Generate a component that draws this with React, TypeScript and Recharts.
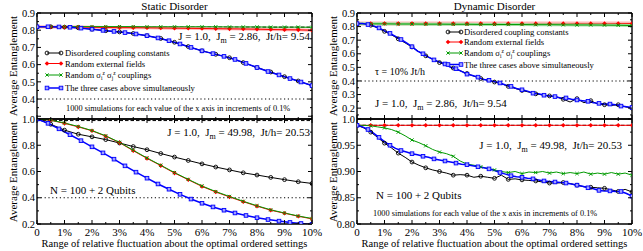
import React from 'react';
import { LineChart, Line, XAxis, YAxis, ReferenceLine } from 'recharts';

const FONT = '"Liberation Serif", "Times New Roman", Times, serif';
const W = 643;
const H = 251;

// ---------- x grids (relative fluctuation, %) ----------
const X_STEP_05 = [0, 0.5, 1, 1.5, 2, 2.5, 3, 3.5, 4, 4.5, 5, 5.5, 6, 6.5, 7, 7.5, 8, 8.5, 9, 9.5, 10];
const X_STEP_04 = [0, 0.4, 0.8, 1.2, 1.6, 2, 2.4, 2.8, 3.2, 3.6, 4, 4.4, 4.8, 5.2, 5.6, 6, 6.4, 6.8, 7.2, 7.6, 8, 8.4, 8.8, 9.2, 9.6, 10];
const X_STEP_025 = [0, 0.25, 0.5, 0.75, 1, 1.25, 1.5, 1.75, 2, 2.25, 2.5, 2.75, 3, 3.25, 3.5, 3.75, 4, 4.25, 4.5, 4.75, 5, 5.25, 5.5, 5.75, 6, 6.25, 6.5, 6.75, 7, 7.25, 7.5, 7.75, 8, 8.25, 8.5, 8.75, 9, 9.25, 9.5, 9.75, 10];
const X_STEP_02 = [0, 0.2, 0.4, 0.6, 0.8, 1, 1.2, 1.4, 1.6, 1.8, 2, 2.2, 2.4, 2.6, 2.8, 3, 3.2, 3.4, 3.6, 3.8, 4, 4.2, 4.4, 4.6, 4.8, 5, 5.2, 5.4, 5.6, 5.8, 6, 6.2, 6.4, 6.6, 6.8, 7, 7.2, 7.4, 7.6, 7.8, 8, 8.2, 8.4, 8.6, 8.8, 9, 9.2, 9.4, 9.6, 9.8, 10];

const X_MAJOR = [0, 1, 2, 3, 4, 5, 6, 7, 8, 9, 10];
const X_MINOR = [0.5, 1.5, 2.5, 3.5, 4.5, 5.5, 6.5, 7.5, 8.5, 9.5];
const X_LABELS = ['0', '1%', '2%', '3%', '4%', '5%', '6%', '7%', '8%', '9%', '10%'];

// ---------- Static disorder, Jm = 2.86 ----------
const ST_TOP_BLACK = [0.82, 0.82, 0.818, 0.814, 0.806, 0.797, 0.79, 0.781, 0.768, 0.752, 0.73, 0.705, 0.68, 0.66, 0.64, 0.612, 0.583, 0.557, 0.53, 0.505, 0.478];
const ST_TOP_RED = [0.82, 0.819, 0.818, 0.818, 0.817, 0.816, 0.815, 0.815, 0.814, 0.813, 0.812, 0.811, 0.81, 0.809, 0.808, 0.807, 0.806, 0.804, 0.803, 0.802, 0.8];
const ST_TOP_GREEN = [0.82, 0.821, 0.821, 0.821, 0.821, 0.821, 0.821, 0.821, 0.82, 0.82, 0.82, 0.82, 0.82, 0.82, 0.819, 0.819, 0.819, 0.818, 0.818, 0.818, 0.817];
const ST_TOP_BLUE = [0.82, 0.82, 0.819, 0.817, 0.812, 0.806, 0.799, 0.793, 0.786, 0.778, 0.768, 0.755, 0.739, 0.72, 0.7, 0.68, 0.664, 0.648, 0.63, 0.607, 0.583, 0.56, 0.54, 0.519, 0.499, 0.478];

// ---------- Static disorder, Jm = 49.98 ----------
const ST_BOT_BLACK = [1.0, 0.96, 0.915, 0.884, 0.864, 0.843, 0.817, 0.79, 0.766, 0.737, 0.71, 0.684, 0.658, 0.634, 0.612, 0.59, 0.573, 0.555, 0.538, 0.522, 0.509];
const ST_BOT_RED = [1.0, 0.99, 0.967, 0.94, 0.91, 0.869, 0.82, 0.758, 0.7, 0.645, 0.588, 0.537, 0.486, 0.444, 0.406, 0.37, 0.336, 0.305, 0.282, 0.259, 0.239];
const ST_BOT_GREEN = [1.0, 0.991, 0.97, 0.943, 0.912, 0.872, 0.822, 0.762, 0.703, 0.648, 0.592, 0.54, 0.49, 0.447, 0.41, 0.373, 0.339, 0.308, 0.284, 0.261, 0.242];
const ST_BOT_BLUE = [1.0, 0.967, 0.925, 0.88, 0.835, 0.788, 0.742, 0.694, 0.643, 0.595, 0.549, 0.505, 0.465, 0.426, 0.39, 0.358, 0.33, 0.305, 0.284, 0.265, 0.248, 0.234, 0.222, 0.212, 0.204, 0.197];

// ---------- Dynamic disorder, Jm = 2.86 ----------
const DY_TOP_BLACK = [0.822, 0.82, 0.81, 0.79, 0.765, 0.74, 0.71, 0.68, 0.65, 0.615, 0.585, 0.56, 0.535, 0.515, 0.495, 0.475, 0.455, 0.435, 0.418, 0.405, 0.392, 0.38, 0.36, 0.345, 0.33, 0.318, 0.305, 0.297, 0.29, 0.283, 0.265, 0.245, 0.27, 0.24, 0.255, 0.23, 0.225, 0.22, 0.225, 0.21, 0.2];
const DY_TOP_RED = [0.822, 0.822, 0.823, 0.822, 0.822, 0.822, 0.823, 0.822, 0.822, 0.822, 0.822, 0.823, 0.822, 0.822, 0.822, 0.822, 0.823, 0.822, 0.822, 0.822, 0.822];
const DY_TOP_GREEN = [0.82, 0.82, 0.82, 0.819, 0.819, 0.818, 0.818, 0.817, 0.817, 0.816, 0.816, 0.815, 0.815, 0.814, 0.814, 0.813, 0.812, 0.812, 0.811, 0.81, 0.808];
const DY_TOP_BLUE = [0.822, 0.822, 0.815, 0.805, 0.79, 0.768, 0.75, 0.728, 0.705, 0.68, 0.652, 0.62, 0.6, 0.575, 0.555, 0.54, 0.525, 0.5, 0.49, 0.47, 0.45, 0.44, 0.428, 0.41, 0.405, 0.395, 0.385, 0.37, 0.36, 0.345, 0.335, 0.325, 0.31, 0.305, 0.295, 0.29, 0.285, 0.275, 0.275, 0.265, 0.26, 0.255, 0.25, 0.24, 0.235, 0.23, 0.23, 0.225, 0.215, 0.21, 0.205];

// ---------- Dynamic disorder, Jm = 49.98 ----------
const DY_BOT_BLACK = [0.988, 0.983, 0.975, 0.965, 0.954, 0.945, 0.935, 0.927, 0.918, 0.912, 0.907, 0.903, 0.9, 0.897, 0.893, 0.894, 0.893, 0.889, 0.891, 0.889, 0.887, 0.893, 0.885, 0.886, 0.884, 0.883, 0.882, 0.88, 0.878, 0.878, 0.879, 0.877, 0.874, 0.871, 0.87, 0.869, 0.868, 0.865, 0.862, 0.866, 0.861];
const DY_BOT_RED = [0.988, 0.988, 0.988, 0.988, 0.988, 0.988, 0.988, 0.988, 0.988, 0.988, 0.988, 0.988, 0.988, 0.988, 0.988, 0.988, 0.988, 0.988, 0.988, 0.988, 0.988];
const DY_BOT_GREEN = [0.988, 0.988, 0.987, 0.985, 0.983, 0.98, 0.975, 0.968, 0.96, 0.955, 0.949, 0.942, 0.937, 0.934, 0.929, 0.92, 0.914, 0.912, 0.909, 0.906, 0.903, 0.9, 0.898, 0.9, 0.896, 0.899, 0.898, 0.9, 0.897, 0.899, 0.896, 0.898, 0.896, 0.899, 0.895, 0.897, 0.895, 0.898, 0.895, 0.897, 0.893];
const DY_BOT_BLUE = [0.988, 0.985, 0.98, 0.973, 0.965, 0.957, 0.95, 0.944, 0.94, 0.937, 0.934, 0.932, 0.929, 0.927, 0.924, 0.922, 0.92, 0.918, 0.916, 0.914, 0.913, 0.911, 0.909, 0.907, 0.905, 0.902, 0.898, 0.895, 0.892, 0.89, 0.889, 0.887, 0.886, 0.884, 0.882, 0.881, 0.88, 0.879, 0.878, 0.876, 0.874, 0.872, 0.869, 0.867, 0.864, 0.863, 0.863, 0.862, 0.862, 0.858, 0.853];

// ---------- y ticks ----------
const TL_Y_MAJOR = [0.3, 0.4, 0.5, 0.6, 0.7, 0.8, 0.9];
const TL_Y_LABELS = ['', '0.4', '0.5', '0.6', '0.7', '0.8', '0.9'];
const TL_Y_MINOR = [0.35, 0.45, 0.55, 0.65, 0.75, 0.85];
const TR_Y_MAJOR = [0.2, 0.3, 0.4, 0.5, 0.6, 0.7, 0.8, 0.9];
const TR_Y_LABELS = ['0.2', '0.3', '0.4', '0.5', '0.6', '0.7', '0.8', '0.9'];
const TR_Y_MINOR = [0.15, 0.25, 0.35, 0.45, 0.55, 0.65, 0.75, 0.85];
const BL_Y_MAJOR = [0.2, 0.4, 0.6, 0.8, 1.0];
const BL_Y_LABELS = ['0.2', '0.4', '0.6', '0.8', '1.0'];
const BL_Y_MINOR = [0.3, 0.5, 0.7, 0.9];
const BR_Y_MAJOR = [0.8, 0.85, 0.9, 0.95, 1.0];
const BR_Y_LABELS = ['0.80', '0.85', '0.90', '0.95', '1.0'];
const BR_Y_MINOR = [0.825, 0.875, 0.925, 0.975];

type Kind = 'black' | 'red' | 'green' | 'blue';
const COLORS: Record<Kind, string> = { black: '#000000', red: '#ff0000', green: '#009a00', blue: '#0000ff' };
const WIDTHS: Record<Kind, number> = { black: 1, red: 1, green: 1, blue: 1.5 };

function drawMarker(kind: Kind, cx: number, cy: number, key: any) {
  switch (kind) {
    case 'black':
      return <circle key={key} cx={cx} cy={cy} r={1.9} fill="none" stroke="#000" strokeWidth={0.9} />;
    case 'red':
      return <polygon key={key} points={`${cx},${cy - 2.3} ${cx + 2.3},${cy} ${cx},${cy + 2.3} ${cx - 2.3},${cy}`} fill="#ff0000" />;
    case 'green':
      return <path key={key} d={`M${cx - 1.6},${cy - 1.6}L${cx + 1.6},${cy + 1.6}M${cx - 1.6},${cy + 1.6}L${cx + 1.6},${cy - 1.6}`} stroke="#009a00" strokeWidth={1} />;
    default:
      return <rect key={key} x={cx - 1.8} y={cy - 1.8} width={3.6} height={3.6} fill="#a0a0ff" stroke="#0000ff" strokeWidth={0.9} />;
  }
}

interface SeriesDef {
  xs: number[];
  ys: number[];
  kind: Kind;
  every: number;
  band?: string;
  bandWidth?: number;
}

type Side = 'bottom' | 'top' | 'left' | 'right';

const textStyle: React.CSSProperties = { fontFamily: FONT, whiteSpace: 'pre' };

function makeTick(side: Side, majors: number[], labels?: string[]) {
  return (props: any) => {
    const { x, y, payload, index } = props;
    const v = payload.value;
    const mi = majors.findIndex((m) => Math.abs(m - v) < 1e-9);
    const len = mi >= 0 ? 4 : 2;
    let line: any;
    if (side === 'bottom') line = <line x1={x} x2={x} y1={y} y2={y - len} stroke="#000" strokeWidth={1} />;
    else if (side === 'top') line = <line x1={x} x2={x} y1={y} y2={y + len} stroke="#000" strokeWidth={1} />;
    else if (side === 'left') line = <line x1={x} x2={x + len} y1={y} y2={y} stroke="#000" strokeWidth={1} />;
    else line = <line x1={x} x2={x - len} y1={y} y2={y} stroke="#000" strokeWidth={1} />;
    let label: any = null;
    if (labels && mi >= 0 && labels[mi]) {
      if (side === 'bottom')
        label = (
          <text x={x} y={y + 12} textAnchor="middle" fontSize={11} fill="#000" style={textStyle}>
            {labels[mi]}
          </text>
        );
      else if (side === 'left')
        label = (
          <text x={x - 2} y={y + 3.7} textAnchor="end" fontSize={10.5} fill="#000" style={textStyle}>
            {labels[mi]}
          </text>
        );
    }
    return (
      <g key={`tk-${side}-${index}`}>
        {line}
        {label}
      </g>
    );
  };
}

interface PanelProps {
  left: number;
  right: number;
  top: number;
  bottom: number;
  domain: [number, number];
  yMajor: number[];
  yMinor: number[];
  yLabels: string[];
  showX: boolean;
  series: SeriesDef[];
  dashY: number;
  dotY?: number;
}

// axes are given a 1px thickness (an axis of 0 thickness is not drawn);
// margins subtract it so the plot rectangle lands at left/right/top/bottom.
const AX = 1;

function Panel(p: PanelProps) {
  const axisLine = { stroke: '#000', strokeWidth: 1.4 };
  const xTicks = [...X_MAJOR, ...X_MINOR];
  const yTicks = [...p.yMajor, ...p.yMinor];
  return (
    <div style={{ position: 'absolute', left: 0, top: 0 }}>
      <LineChart
        width={W}
        height={H}
        margin={{ top: p.top - AX, left: p.left - AX, right: W - p.right - AX, bottom: H - p.bottom - AX }}
      >
        <XAxis
          xAxisId="b"
          dataKey="x"
          type="number"
          domain={[0, 10]}
          ticks={xTicks}
          interval={0}
          allowDataOverflow
          height={AX}
          tickSize={0}
          tickMargin={0}
          tickLine={false}
          axisLine={axisLine}
          tick={makeTick('bottom', X_MAJOR, p.showX ? X_LABELS : undefined)}
        />
        <XAxis
          xAxisId="t"
          orientation="top"
          dataKey="x"
          type="number"
          domain={[0, 10]}
          ticks={xTicks}
          interval={0}
          allowDataOverflow
          height={AX}
          tickSize={0}
          tickMargin={0}
          tickLine={false}
          axisLine={axisLine}
          tick={makeTick('top', X_MAJOR)}
        />
        <YAxis
          yAxisId="l"
          type="number"
          domain={p.domain}
          ticks={yTicks}
          interval={0}
          allowDataOverflow
          width={AX}
          tickSize={0}
          tickMargin={0}
          tickLine={false}
          axisLine={axisLine}
          tick={makeTick('left', p.yMajor, p.yLabels)}
        />
        <YAxis
          yAxisId="r"
          orientation="right"
          type="number"
          domain={p.domain}
          ticks={yTicks}
          interval={0}
          allowDataOverflow
          width={AX}
          tickSize={0}
          tickMargin={0}
          tickLine={false}
          axisLine={axisLine}
          tick={makeTick('right', p.yMajor)}
        />
        {p.dotY !== undefined && (
          <ReferenceLine xAxisId="b" yAxisId="l" y={p.dotY} stroke="#000" strokeWidth={1.1} strokeDasharray="1.2 2.6" />
        )}
        <ReferenceLine xAxisId="b" yAxisId="l" y={p.dashY} stroke="#000" strokeWidth={1} strokeDasharray="3.5 2" />
        {p.series.map((s, i) => {
          const data = s.xs.map((x, j) => ({ x, y: s.ys[j] }));
          const out: any[] = [];
          if (s.band) {
            out.push(
              <Line
                key={`band-${i}`}
                xAxisId="b"
                yAxisId="l"
                data={data}
                dataKey="y"
                type="linear"
                stroke={s.band}
                strokeWidth={s.bandWidth || 4}
                dot={false}
                activeDot={false}
                isAnimationActive={false}
              />
            );
          }
          out.push(
            <Line
              key={`line-${i}`}
              xAxisId="b"
              yAxisId="l"
              data={data}
              dataKey="y"
              type="linear"
              stroke={COLORS[s.kind]}
              strokeWidth={WIDTHS[s.kind]}
              dot={(d: any) =>
                d.index % s.every === 0 && d.cx != null && d.cy != null ? (
                  drawMarker(s.kind, d.cx, d.cy, `m-${i}-${d.index}`)
                ) : (
                  <g key={`m-${i}-${d.index}`} />
                )
              }
              activeDot={false}
              isAnimationActive={false}
            />
          );
          return out;
        })}
      </LineChart>
    </div>
  );
}

function LegendBox({ x0, x1, tx, ys }: { x0: number; x1: number; tx: number; ys: number[] }) {
  const kinds: Kind[] = ['black', 'red', 'green', 'blue'];
  const fs = 8.6;
  const labels: any[] = [
    'Disordered coupling constants',
    'Random external fields',
    <>
      Random σ<tspan fontSize={5.5} dy={2}>i</tspan>
      <tspan fontSize={5.5} dy={-5}>z</tspan>
      <tspan dy={3}> σ</tspan>
      <tspan fontSize={5.5} dy={2}>j</tspan>
      <tspan fontSize={5.5} dy={-5}>z</tspan>
      <tspan dy={3}> couplings</tspan>
    </>,
    'The three cases above simultaneously',
  ];
  return (
    <g>
      {kinds.map((k, i) => (
        <g key={k}>
          <line x1={x0} x2={x1} y1={ys[i]} y2={ys[i]} stroke={COLORS[k]} strokeWidth={WIDTHS[k]} />
          {drawMarker(k, x0, ys[i], 'a')}
          {drawMarker(k, x1, ys[i], 'b')}
          <text x={tx} y={ys[i] + 3} fontSize={fs} fill="#000" style={textStyle}>
            {labels[i]}
          </text>
        </g>
      ))}
    </g>
  );
}

function JText({ x, y, anchor, jm, jt }: { x: number; y: number; anchor: 'start' | 'end'; jm: string; jt: string }) {
  return (
    <text x={x} y={y} textAnchor={anchor} fontSize={11} fill="#000" style={textStyle}>
      {'J = 1.0,  J'}
      <tspan fontSize={8} dy={3}>m</tspan>
      <tspan dy={-3}>{` = ${jm},  Jt/h= ${jt}`}</tspan>
    </text>
  );
}

export default function App() {
  const TL: SeriesDef[] = [
    { xs: X_STEP_05, ys: ST_TOP_BLACK, kind: 'black', every: 1 },
    { xs: X_STEP_05, ys: ST_TOP_RED, kind: 'red', every: 1, band: '#ffb0b0', bandWidth: 3 },
    { xs: X_STEP_05, ys: ST_TOP_GREEN, kind: 'green', every: 1 },
    { xs: X_STEP_04, ys: ST_TOP_BLUE, kind: 'blue', every: 1 },
  ];
  const BL: SeriesDef[] = [
    { xs: X_STEP_05, ys: ST_BOT_BLACK, kind: 'black', every: 1 },
    { xs: X_STEP_05, ys: ST_BOT_RED, kind: 'red', every: 1 },
    { xs: X_STEP_05, ys: ST_BOT_GREEN, kind: 'green', every: 1 },
    { xs: X_STEP_04, ys: ST_BOT_BLUE, kind: 'blue', every: 1 },
  ];
  const TR: SeriesDef[] = [
    { xs: X_STEP_025, ys: DY_TOP_BLACK, kind: 'black', every: 2 },
    { xs: X_STEP_05, ys: DY_TOP_RED, kind: 'red', every: 1, band: '#ffb8b8', bandWidth: 4 },
    { xs: X_STEP_05, ys: DY_TOP_GREEN, kind: 'green', every: 1, band: '#a8e0a8', bandWidth: 3 },
    { xs: X_STEP_02, ys: DY_TOP_BLUE, kind: 'blue', every: 2 },
  ];
  const BR: SeriesDef[] = [
    { xs: X_STEP_025, ys: DY_BOT_BLACK, kind: 'black', every: 2 },
    { xs: X_STEP_05, ys: DY_BOT_RED, kind: 'red', every: 1 },
    { xs: X_STEP_025, ys: DY_BOT_GREEN, kind: 'green', every: 2 },
    { xs: X_STEP_02, ys: DY_BOT_BLUE, kind: 'blue', every: 2 },
  ];

  const sim = '1000 simulations for each value of the x axis in increments of 0.1%';
  const xTitle = 'Range of relative fluctuation about the optimal ordered settings';

  return (
    <div style={{ position: 'absolute', left: 0, top: 0, width: W, height: H, background: '#fff', overflow: 'hidden' }}>
      <Panel left={37} right={312} top={13} bottom={119} domain={[0.284, 0.9]} yMajor={TL_Y_MAJOR} yMinor={TL_Y_MINOR} yLabels={TL_Y_LABELS} showX={false} series={TL} dashY={0.818} dotY={0.4} />
      <Panel left={37} right={312} top={119} bottom={224} domain={[0.2, 1.0]} yMajor={BL_Y_MAJOR} yMinor={BL_Y_MINOR} yLabels={BL_Y_LABELS} showX={true} series={BL} dashY={0.988} dotY={0.4} />
      <Panel left={357} right={632} top={13} bottom={119} domain={[0.12, 0.9]} yMajor={TR_Y_MAJOR} yMinor={TR_Y_MINOR} yLabels={TR_Y_LABELS} showX={false} series={TR} dashY={0.822} dotY={0.4} />
      <Panel left={357} right={632} top={119} bottom={224} domain={[0.8, 1.0]} yMajor={BR_Y_MAJOR} yMinor={BR_Y_MINOR} yLabels={BR_Y_LABELS} showX={true} series={BR} dashY={0.988} />

      <svg width={W} height={H} style={{ position: 'absolute', left: 0, top: 0, pointerEvents: 'none' }}>
        <text x={174.5} y={10} textAnchor="middle" fontSize={11} fill="#000" style={textStyle}>Static Disorder</text>
        <text x={494.5} y={10} textAnchor="middle" fontSize={11} fill="#000" style={textStyle}>Dynamic Disorder</text>

        {[[13, 66], [13, 172], [333, 66], [333, 172]].map(([x, y], i) => (
          <text key={i} x={x} y={y} transform={`rotate(-90 ${x} ${y})`} textAnchor="middle" dominantBaseline="central" fontSize={11} fill="#000" style={textStyle}>
            Average Entanglement
          </text>
        ))}

        <text x={174.5} y={247} textAnchor="middle" fontSize={10.5} fill="#000" style={textStyle}>{xTitle}</text>
        <text x={494.5} y={247} textAnchor="middle" fontSize={10.5} fill="#000" style={textStyle}>{xTitle}</text>

        {/* top-left annotations */}
        <JText x={310} y={40} anchor="end" jm="2.86" jt="9.54" />
        <LegendBox x0={47} x1={61} tx={65} ys={[53, 63.5, 75, 88]} />
        <text x={66} y={111} fontSize={8.3} fill="#000" style={textStyle}>{sim}</text>

        {/* bottom-left annotations */}
        <JText x={310} y={136} anchor="end" jm="49.98" jt="20.53" />
        <text x={50} y={194} fontSize={11} fill="#000" style={textStyle}>N = 100 + 2 Qubits</text>

        {/* top-right annotations */}
        <LegendBox x0={448} x1={461} tx={464} ys={[32, 42, 53, 64.5]} />
        <text x={375} y={74.5} fontSize={10} fill="#000" style={textStyle}>τ = 10% Jt/h</text>
        <JText x={375} y={107} anchor="start" jm="2.86" jt="9.54" />

        {/* bottom-right annotations */}
        <JText x={622} y={149} anchor="end" jm="49.98" jt="20.53" />
        <text x={376} y={199} fontSize={11} fill="#000" style={textStyle}>N = 100 + 2 Qubits</text>
        <text x={373} y={216} fontSize={8.3} fill="#000" style={textStyle}>{sim}</text>
      </svg>
    </div>
  );
}
